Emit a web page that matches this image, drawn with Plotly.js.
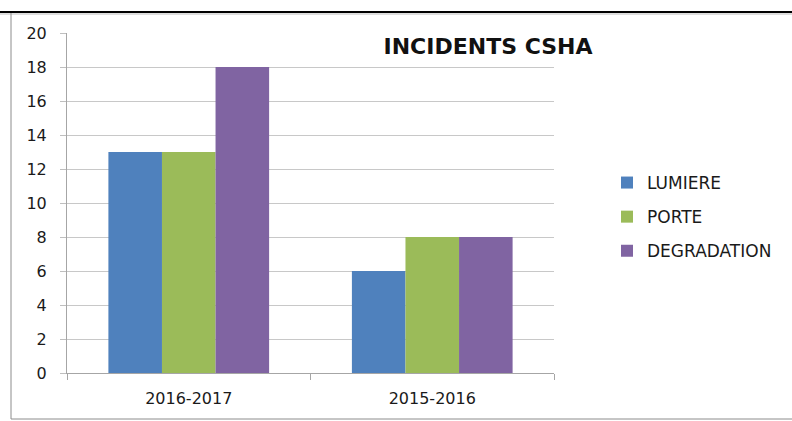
<!DOCTYPE html>
<html>
<head>
<meta charset="utf-8">
<script src="https://cdn.plot.ly/plotly-3.0.1.min.js"></script>
<style>
html,body{margin:0;padding:0;background:#fff;}
#chart{width:792px;height:421px;}
</style>
</head>
<body>
<div id="chart"></div>
<script>
const categories = ["2016-2017", "2015-2016"];
const seriesNames = ["LUMIERE", "PORTE", "DEGRADATION"];
const lumiere = [13, 6];
const porte = [13, 8];
const degradation = [18, 8];
const yTicks = [0, 2, 4, 6, 8, 10, 12, 14, 16, 18, 20];
const chartTitle = "INCIDENTS CSHA";

const colors = ["#4F81BD", "#9BBB59", "#8064A2"];
const values = [lumiere, porte, degradation];

const traces = seriesNames.map((name, i) => ({
  type: "bar",
  name: name,
  x: categories,
  y: values[i],
  marker: {color: colors[i], line: {width: 0}},
  legendgroup: "g" + i,
  hoverinfo: "x+y+name"
}));

// plot area: x 67..554 px, y 33..373 px
const L = 67, R = 554, T = 33, B = 373;
const px = v => (v - L) / (R - L);
const py = v => (B - v) / (B - T);

const layout = {
  width: 792,
  height: 421,
  margin: {l: L, r: 792 - R, t: T, b: 421 - B},
  paper_bgcolor: "#ffffff",
  plot_bgcolor: "#ffffff",
  font: {family: "DejaVu Sans, sans-serif", color: "#1a1a1a", size: 16},
  barmode: "group",
  bargap: 0.34,
  bargroupgap: 0,
  title: {
    text: "<b>" + chartTitle + "</b>",
    font: {family: "DejaVu Sans, sans-serif", size: 22, color: "#111"},
    x: px(488), xref: "paper", xanchor: "center",
    y: 1 - 46 / 421, yref: "container", yanchor: "middle"
  },
  xaxis: {
    type: "category",
    tickson: "boundaries",
    ticks: "outside",
    ticklen: 6,
    tickcolor: "#A6A6A6",
    showline: true,
    linecolor: "#A6A6A6",
    linewidth: 1,
    showgrid: false,
    tickfont: {size: 16, color: "#1a1a1a"},
    ticklabelstandoff: 11,
    fixedrange: true
  },
  yaxis: {
    range: [0, 20],
    tickvals: yTicks,
    ticktext: yTicks.map(String),
    ticks: "outside",
    ticklen: 6,
    tickcolor: "#BFBFBF",
    showline: true,
    linecolor: "#A6A6A6",
    linewidth: 1,
    showgrid: true,
    gridcolor: "#C8C8C8",
    gridwidth: 1,
    zeroline: false,
    tickfont: {size: 16, color: "#1a1a1a"},
    ticklabelstandoff: 10,
    fixedrange: true
  },
  showlegend: true,
  legend: {
    x: px(607), xanchor: "left",
    y: py(165), yanchor: "top",
    font: {size: 17, color: "#1a1a1a"},
    traceorder: "grouped",
    tracegroupgap: 9,
    bgcolor: "rgba(0,0,0,0)"
  },
  shapes: [
    {type: "line", xref: "paper", yref: "paper", x0: px(0), x1: px(792), y0: py(12), y1: py(12), line: {color: "#000", width: 2}},
    {type: "line", xref: "paper", yref: "paper", x0: px(0), x1: px(792), y0: py(14), y1: py(14), line: {color: "#bbb", width: 1}},
    {type: "line", xref: "paper", yref: "paper", x0: px(11), x1: px(11), y0: py(13), y1: py(419), line: {color: "#8c8c8c", width: 1}},
    {type: "line", xref: "paper", yref: "paper", x0: px(11), x1: px(792), y0: py(419), y1: py(419), line: {color: "#8c8c8c", width: 1}}
  ]
};

Plotly.newPlot("chart", traces, layout, {displayModeBar: false, staticPlot: true});
</script>
</body>
</html>
